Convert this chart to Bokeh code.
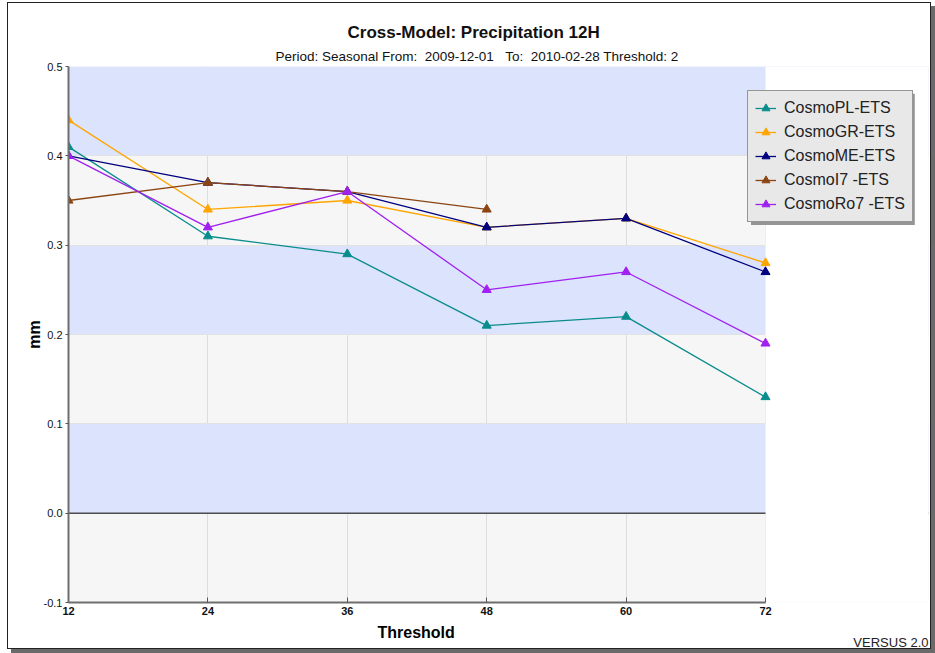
from bokeh.plotting import figure
from bokeh.models import (Range1d, FixedTicker, PrintfTickFormatter, Span, Legend, Title, BoxAnnotation)
from bokeh.embed import file_html
from bokeh.resources import INLINE

NaN = float("nan")

thresholds = [12, 24, 36, 48, 60, 72]
series_names = ["CosmoPL-ETS", "CosmoGR-ETS", "CosmoME-ETS", "CosmoI7 -ETS", "CosmoRo7 -ETS"]
cosmo_pl = [0.41, 0.31, 0.29, 0.21, 0.22, 0.13]
cosmo_gr = [0.44, 0.34, 0.35, 0.32, 0.33, 0.28]
cosmo_me = [0.40, 0.37, 0.36, 0.32, 0.33, 0.27]
cosmo_i7 = [0.35, 0.37, 0.36, 0.34, NaN, NaN]
cosmo_ro7 = [0.40, 0.32, 0.36, 0.25, 0.27, 0.19]
series_colors = ["#0A8C8C", "#FFA500", "#000080", "#8B4513", "#A020F0"]
y_ticks = [-0.1, 0.0, 0.1, 0.2, 0.3, 0.4, 0.5]

title_text = "Cross-Model: Precipitation 12H"
subtitle_text = "Period: Seasonal From:\u00a0 2009-12-01 \u00a0\u00a0To:\u00a0 2010-02-28 Threshold:\u00a02"
x_label = "Threshold"
y_label = "mm"
footer_text = "VERSUS 2.0"

x_min, x_max = thresholds[0], thresholds[-1]
# frame extends right of the data area so the legend (drawn inside the frame) is not clipped
x_view_end = x_max + 14.03

p = figure(width=922, height=645, output_backend="svg", toolbar_location=None,
           x_range=Range1d(x_min, x_view_end), y_range=Range1d(-0.1, 0.5),
           min_border_left=60, min_border_right=2, min_border_top=63, min_border_bottom=46)
p.styles = {"margin-left": "8px", "margin-top": "3px",
            "box-shadow": "0 0 0 1px #222, 4px 4px 0 1px #6a6a6a"}

p.background_fill_color = "#F6F6F6"
p.border_fill_color = "white"
p.outline_line_color = None

p.ygrid.ticker = FixedTicker(ticks=y_ticks)
p.ygrid.band_fill_color = "#DCE3FD"
p.ygrid.band_fill_alpha = 1.0
p.ygrid.grid_line_color = "#E2E2E2"
p.xgrid.ticker = FixedTicker(ticks=thresholds)
p.xgrid.grid_line_color = "#DDDDDD"

p.add_layout(Span(location=0, dimension="width", line_color="black", line_width=1, level="underlay"))
# blank out the part of the frame right of the last threshold
p.add_layout(BoxAnnotation(left=x_max, fill_color="white", fill_alpha=1.0, line_alpha=0,
                           level="underlay"))

p.xaxis.ticker = FixedTicker(ticks=thresholds)
p.xaxis.bounds = (x_min, x_max)
p.yaxis.ticker = FixedTicker(ticks=y_ticks)
p.yaxis.formatter = PrintfTickFormatter(format="%.1f")

for ax in (p.xaxis, p.yaxis):
    ax.axis_line_color = "#6E6E6E"
    ax.axis_line_width = 2
    ax.major_tick_line_color = "#555555"
    ax.minor_tick_line_color = None
    ax.major_label_text_color = "#111111"

p.xaxis.major_tick_in = 5
p.xaxis.major_tick_out = 0
p.xaxis.major_label_text_font = "Liberation Sans"
p.xaxis.major_label_text_font_style = "bold"
p.xaxis.major_label_text_font_size = "11px"
p.xaxis.major_label_standoff = 4

p.yaxis.major_tick_in = 0
p.yaxis.major_tick_out = 3
p.yaxis.major_label_text_font = "Liberation Sans"
p.yaxis.major_label_text_font_size = "11px"
p.yaxis.major_label_standoff = 3
p.yaxis.axis_label = y_label
p.yaxis.axis_label_standoff = -2
p.yaxis.axis_label_text_color = "black"
p.yaxis.axis_label_text_font = "Liberation Sans"
p.yaxis.axis_label_text_font_style = "bold"
p.yaxis.axis_label_text_font_size = "16px"

all_series = [cosmo_pl, cosmo_gr, cosmo_me, cosmo_i7, cosmo_ro7]
items = []
for name, vals, col in zip(series_names, all_series, series_colors):
    r1 = p.line(thresholds, vals, line_color=col, line_width=1.3)
    r2 = p.scatter(thresholds, vals, marker="triangle", size=9, fill_color=col, line_color=col)
    items.append((name, [r1, r2]))

# legend drop shadow (decoration), then the legend itself
p.add_layout(BoxAnnotation(left=70.75, right=84.85, top=0.4695, bottom=0.3225,
                           fill_color="#8a8a8a", fill_alpha=0.9, line_alpha=0))

legend = Legend(items=items, location=(679, 380), orientation="vertical")
legend.label_text_font = "Liberation Sans"
legend.label_text_font_size = "16px"
legend.label_text_color = "#222222"
legend.label_height = 20
legend.glyph_height = 20
legend.glyph_width = 21
legend.spacing = 4
legend.padding = 7
legend.margin = 0
legend.label_standoff = 8
legend.background_fill_color = "#E8E8E8"
legend.background_fill_alpha = 1.0
legend.border_line_color = "#444444"
legend.border_line_width = 1
p.add_layout(legend, "center")

# Subtitle (closest to the frame) and title
p.add_layout(Title(text=subtitle_text, align="left", offset=207, standoff=6,
                   text_font="Liberation Sans", text_font_style="normal", text_font_size="13.5px",
                   text_color="#111111"), "above")
p.add_layout(Title(text=title_text, align="left", offset=279, standoff=4,
                   text_font="Liberation Sans", text_font_style="bold", text_font_size="17px",
                   text_color="#111111"), "above")

# x-axis title, centred under the data area
p.add_layout(Title(text=x_label, align="left", offset=309, standoff=8, vertical_align="bottom",
                   text_font="Liberation Sans", text_font_style="bold", text_font_size="16px",
                   text_color="black"), "below")

# Footer (negative standoff keeps it from taking extra room)
p.add_layout(Title(text=footer_text, align="right", offset=0, standoff=-20, vertical_align="top",
                   text_font="Liberation Sans", text_font_style="normal", text_font_size="13px",
                   text_color="#222222"), "below")

open("out.html", "w").write(file_html(p, INLINE))
